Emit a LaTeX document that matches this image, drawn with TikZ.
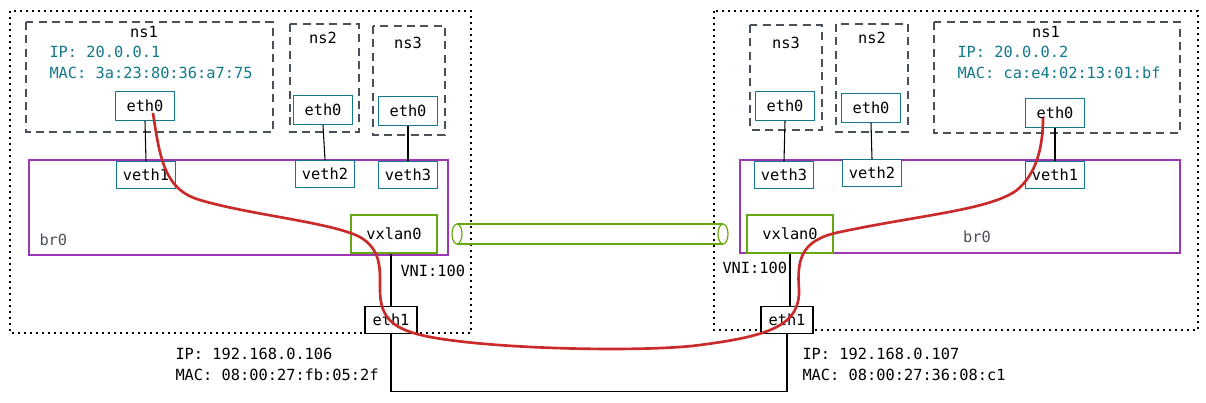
\documentclass[tikz,border=0pt]{standalone}
\usepackage{fontspec}
\setmonofont{DejaVu Sans Mono}
\definecolor{ifteal}{RGB}{18,120,138}
\definecolor{brpurple}{RGB}{156,54,181}
\definecolor{vxgreen}{RGB}{102,168,15}
\definecolor{pktred}{RGB}{201,42,42}
\definecolor{nsgray}{RGB}{73,80,87}
\tikzset{every picture/.style={line width=0.75pt}}
\tikzset{
  hostbox/.style={draw=black, line width=1.1pt, dash pattern=on 1.2pt off 3.3pt},
  nsbox/.style={draw=nsgray, line width=0.9pt, dash pattern=on 6pt off 4pt},
  brbox/.style={draw=brpurple, line width=0.8pt},
  iface/.style={draw=ifteal, fill=white, line width=0.9pt, inner sep=0pt, minimum width=44pt, minimum height=21pt, font=\ttfamily\fontsize{11.5}{13}\selectfont},
  vxbox/.style={draw=vxgreen, fill=white, line width=0.9pt, inner sep=0pt, minimum width=64.5pt, minimum height=28.5pt, font=\ttfamily\fontsize{11.5}{13}\selectfont},
  nicbox/.style={draw=black, fill=white, line width=0.9pt, inner sep=0pt, minimum width=39pt, minimum height=20pt, font=\ttfamily\fontsize{11.5}{13}\selectfont},
  lbl/.style={inner sep=0.75pt, font=\ttfamily\fontsize{11.5}{13}\selectfont},
  addr/.style={lbl, anchor=west, text=ifteal},
  wire/.style={draw=black, line width=0.8pt},
  pkt/.style={draw=pktred, line width=2pt}
}
\begin{document}
\begin{tikzpicture}[x=0.75pt,y=0.75pt,yscale=-1,xscale=1]
\useasboundingbox (0,0) rectangle (1206,403);

%Shape: Rectangle -- host 1
\draw [hostbox] (10,11) rectangle (471,333) ;
%Shape: Rectangle -- host 2
\draw [hostbox] (714,11) rectangle (1198,330) ;

%Shape: Rectangle -- namespaces, host 1
\draw [nsbox] (26,22) rectangle (273,132) ;
\draw [nsbox] (290,24) rectangle (359,132) ;
\draw [nsbox] (373,26) rectangle (445,135) ;
%Shape: Rectangle -- namespaces, host 2
\draw [nsbox] (750,25) rectangle (822,130) ;
\draw [nsbox] (836,24) rectangle (908,132) ;
\draw [nsbox] (934,22) rectangle (1180,133) ;

%Shape: Rectangle -- bridges
\draw [brbox] (29,160) rectangle (448,255) ;
\draw [brbox] (740,160) rectangle (1180,253) ;

%Shape: Tunnel
\draw [vxgreen, line width=0.9pt] (457,224) -- (723,224) (457,244) -- (723,244) ;
\draw [vxgreen, line width=0.9pt, fill=white] (457,234) ellipse [x radius=5, y radius=10] ;
\draw [vxgreen, line width=0.9pt, fill=white] (723,234) ellipse [x radius=5, y radius=10] ;

% Interface Nodes -- host 1
\node [iface, minimum height=21.75pt] (leth0) at (145,106) {eth0};
\node [iface, minimum height=21.75pt] (lnsbeth) at (323,110) {eth0};
\node [iface, minimum height=21.75pt] (lnsceth) at (408,111) {eth0};
\node [iface, minimum height=20pt] (lveth1) at (146,175) {veth1};
\node [iface, minimum height=20pt] (lveth2) at (325,174) {veth2};
\node [iface, minimum height=20pt] (lveth3) at (408,175) {veth3};
\node [vxbox] (lvx) at (394,234) {vxlan0};
\node [nicbox] (leth1) at (391,320) {eth1};

% Interface Nodes -- host 2
\node [iface, minimum height=21.75pt] (rnsceth) at (785,106) {eth0};
\node [iface, minimum height=21.75pt] (rnsbeth) at (871,108) {eth0};
\node [iface, minimum height=21.75pt] (reth0) at (1055,113) {eth0};
\node [iface, minimum height=20pt] (rveth3) at (784,175) {veth3};
\node [iface, minimum height=20pt] (rveth2) at (872,173) {veth2};
\node [iface, minimum height=20pt] (rveth1) at (1055,175) {veth1};
\node [vxbox] (rvx) at (790,234) {vxlan0};
\node [nicbox] (reth1) at (787,320) {eth1};

%Straight Lines -- veth pairs
\draw [wire] (leth0.south) -- (lveth1.north) ;
\draw [wire] (lnsbeth.south) -- (lveth2.north) ;
\draw [wire] (lnsceth.south) -- (lveth3.north) ;
\draw [wire] (rnsceth.south) -- (rveth3.north) ;
\draw [wire] (rnsbeth.south) -- (rveth2.north) ;
\draw [wire] (reth0.south) -- (rveth1.north) ;
%Straight Lines -- vxlan to eth1
\draw [wire] (leth1.north |- lvx.south) -- (leth1.north) ;
\draw [wire] (rvx.south) -- (rvx.south |- reth1.north) ;
%Straight Lines -- underlay
\draw [wire] (leth1.south) -- ++(0,58) -| (reth1.south) ;

% Text Node
\node [lbl] (lnsa) at (144,32) {ns1};
\node [lbl] (lnsb) at (323,38) {ns2};
\node [lbl] (lnsc) at (408,43) {ns3};
\node [addr] (lip) at (48,52) {IP: 20.0.0.1};
\node [addr] (lmac) at (48,73) {MAC: 3a:23:80:36:a7:75};
\node [lbl, anchor=west, text=nsgray] (lbr) at (38,240) {br0};
\node [lbl, anchor=west] (lvni) at (399,271) {VNI:100};
\node [lbl, anchor=west] (lhip) at (174,354) {IP: 192.168.0.106};
\node [lbl, anchor=west] (lhmac) at (174,375) {MAC: 08:00:27:fb:05:2f};
% Text Node
\node [lbl] (rnsc) at (786,43) {ns3};
\node [lbl] (rnsb) at (872,38) {ns2};
\node [lbl] (rnsa) at (1046,32) {ns1};
\node [addr] (rip) at (956,52) {IP: 20.0.0.2};
\node [addr] (rmac) at (956,73) {MAC: ca:e4:02:13:01:bf};
\node [lbl, text=nsgray] (rbr) at (977,237) {br0};
\node [lbl, anchor=west] (rvni) at (721,268) {VNI:100};
\node [lbl, anchor=west] (rhip) at (801,354) {IP: 192.168.0.107};
\node [lbl, anchor=west] (rhmac) at (801,375) {MAC: 08:00:27:36:08:c1};

%Curve Lines -- packet path
\coordinate (lpkt) at (153,113) ;
\coordinate (rpkt) at (1043,118) ;
\draw [pkt] (lpkt) .. controls (160,160) and (165,190) .. (200,200)
  .. controls (250,215) and (330,222) .. (360,237)
  .. controls (382,250) and (380,270) .. (380,290)
  .. controls (380,320) and (395,330) .. (430,337)
  .. controls (500,350) and (650,352) .. (700,345)
  .. controls (770,336) and (800,325) .. (799,290)
  .. controls (797,260) and (800,240) .. (840,232)
  .. controls (920,215) and (990,210) .. (1017,190)
  .. controls (1035,175) and (1043,150) .. (rpkt) ;

\end{tikzpicture}
\end{document}
